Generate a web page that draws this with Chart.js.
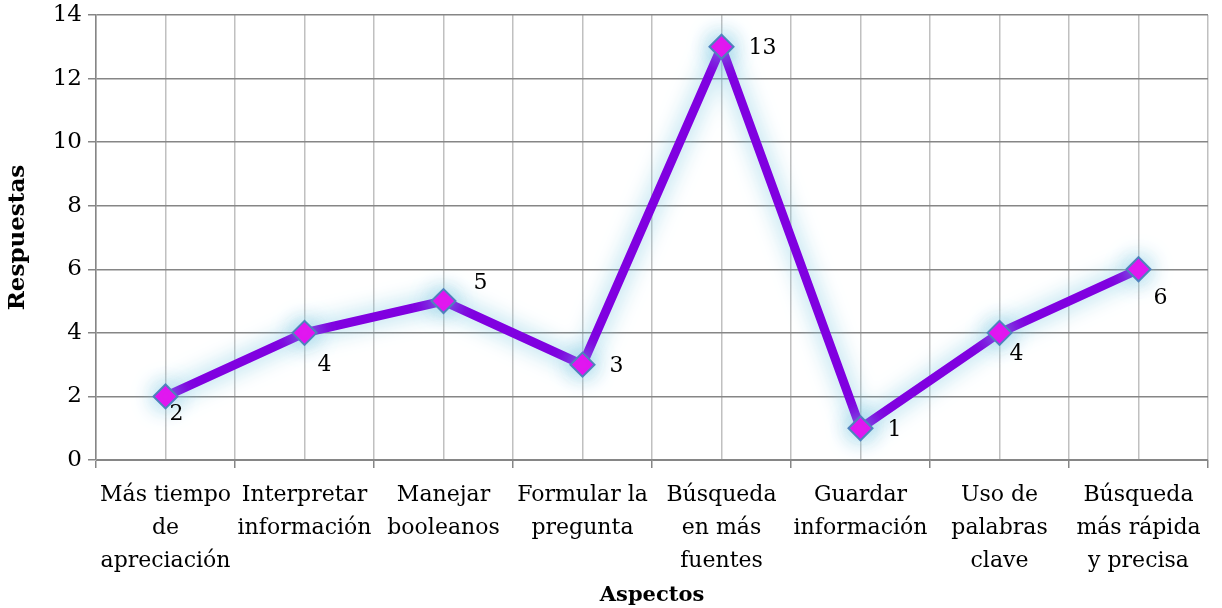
<!DOCTYPE html>
<html>
<head>
<meta charset="utf-8">
<script src="https://cdn.jsdelivr.net/npm/chart.js@4/dist/chart.umd.min.js"></script>
<style>
  html, body { margin: 0; padding: 0; background: #fff; }
  #wrap { width: 1222px; height: 608px; }
</style>
</head>
<body>
<div id="wrap"><canvas id="aspectos-chart" width="1222" height="608"></canvas></div>
<script>
// categories (one array per label, split into lines)
const aspectos = [
    ["Más tiempo", "de", "apreciación"],
    ["Interpretar", "información"],
    ["Manejar", "booleanos"],
    ["Formular la", "pregunta"],
    ["Búsqueda", "en más", "fuentes"],
    ["Guardar", "información"],
    ["Uso de", "palabras", "clave"],
    ["Búsqueda", "más rápida", "y precisa"]
];

// responses per aspect
const respuestas = [2, 4, 5, 3, 13, 1, 4, 6];

// y axis ticks
const yTicks = [0, 2, 4, 6, 8, 10, 12, 14];

// where each value label sits relative to its point (px)
const labelOffsets = [[11, 18], [20, 32], [37, -18], [34, 2], [41, 1], [34, 2], [17, 21], [22, 29]];

const serif = "'DejaVu Serif', serif";

//points for the linear x scale
let puntos = respuestas.map((v, i) => ({ x: i, y: v }));

//light blue glow behind the line and markers
const glowPlugin = {
    id: 'glow',
    beforeDatasetDraw(chart) {
        let ctx = chart.ctx;
        ctx.save();
        ctx.shadowColor = 'rgba(125, 200, 225, 0.95)';
        ctx.shadowBlur = 22;
    },
    afterDatasetDraw(chart) {
        chart.ctx.restore();
    }
};

//value labels next to each point
const valueLabels = {
    id: 'valueLabels',
    afterDatasetsDraw(chart) {
        let ctx = chart.ctx;
        let meta = chart.getDatasetMeta(0);
        ctx.save();
        ctx.font = "22px " + serif;
        ctx.fillStyle = '#000';
        ctx.textAlign = 'center';
        ctx.textBaseline = 'middle';
        meta.data.forEach((pt, i) => {
            let off = labelOffsets[i];
            ctx.fillText(String(respuestas[i]), pt.x + off[0], pt.y + off[1]);
        });
        ctx.restore();
    }
};

let ctx = document.getElementById('aspectos-chart');

let aspectosChart = new Chart(ctx, {
    type: 'line',
    data: {
        datasets: [{
            data: puntos,
            borderColor: '#8000e0',
            borderWidth: 9,
            backgroundColor: '#ee00f2',
            pointStyle: 'rectRot',
            pointRadius: 12,
            pointBorderColor: '#4f81bd',
            pointBorderWidth: 2,
            tension: 0,
            fill: false
        }]
    },
    options: {
        responsive: false,
        animation: false,
        layout: { padding: { top: 15, right: 8, left: 4, bottom: 0 } },
        plugins: {
            legend: { display: false },
            tooltip: { enabled: false }
        },
        scales: {
            x: {
                type: 'linear',
                min: -0.5,
                max: 7.5,
                afterBuildTicks(scale) {
                    let t = [];
                    for (let i = 0; i <= 16; i++) t.push({ value: -0.5 + i * 0.5 });
                    scale.ticks = t;
                },
                afterFit(scale) { scale.height = 148; },
                border: { color: '#868686', width: 1 },
                grid: {
                    color: '#c0c0c0',
                    lineWidth: 1.5,
                    tickLength: 8,
                    tickColor: c => (Number.isInteger(c.tick.value) ? 'rgba(0,0,0,0)' : '#868686')
                },
                ticks: {
                    autoSkip: false,
                    maxRotation: 0,
                    padding: 11,
                    color: '#000',
                    font: { family: serif, size: 22, lineHeight: 1.5 },
                    callback: v => (Number.isInteger(v) ? aspectos[v] : '')
                },
                title: {
                    display: true,
                    text: 'Aspectos',
                    color: '#000',
                    font: { family: serif, size: 21, weight: 'bold' },
                    padding: { top: 0, bottom: 0 }
                }
            },
            y: {
                min: 0,
                max: 14,
                afterBuildTicks(scale) {
                    scale.ticks = yTicks.map(v => ({ value: v }));
                },
                afterFit(scale) {
                    scale.width = 92;
                    scale.paddingTop = 0;
                },
                border: { color: '#868686', width: 1.5 },
                grid: {
                    color: '#868686',
                    lineWidth: 1.5,
                    tickLength: 8
                },
                ticks: {
                    padding: 6,
                    color: '#000',
                    font: { family: serif, size: 23 }
                },
                title: {
                    display: true,
                    text: 'Respuestas',
                    color: '#000',
                    font: { family: serif, size: 23, weight: 'bold' },
                    padding: { top: 0, bottom: 6 }
                }
            }
        }
    },
    plugins: [glowPlugin, valueLabels]
});
</script>
</body>
</html>
